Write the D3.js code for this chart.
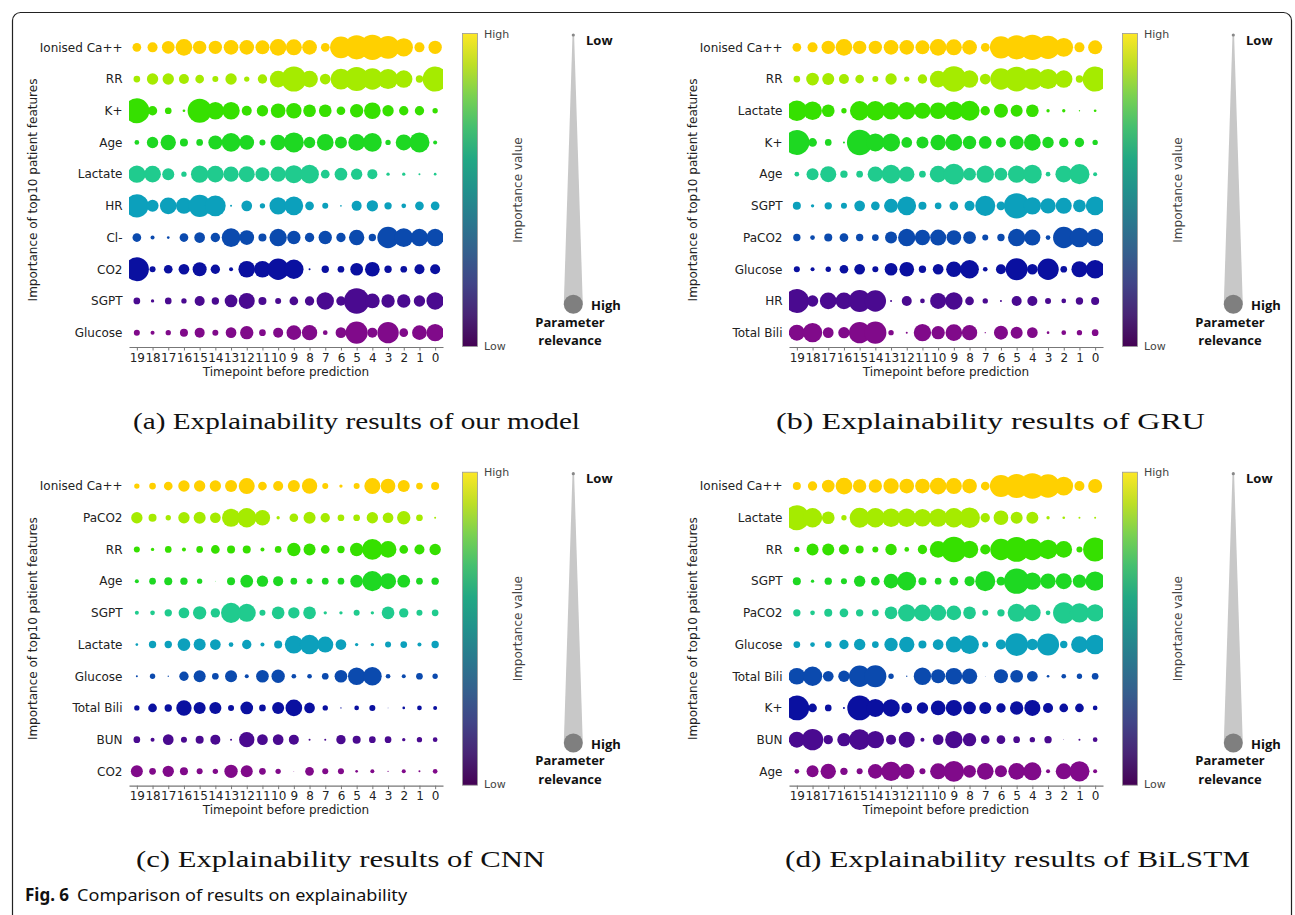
<!DOCTYPE html>
<html>
<head>
<meta charset="utf-8">
<script src="https://cdn.jsdelivr.net/npm/d3@7"></script>
<style>
  body { margin: 0; background: #fff; }
</style>
</head>
<body>
<svg id="fig" width="1295" height="915"></svg>
<script>
// timepoints before prediction, left to right
var timepoints = [19, 18, 17, 16, 15, 14, 13, 12, 11, 10, 9, 8, 7, 6, 5, 4, 3, 2, 1, 0];

// (a) our model
var featuresOurs = ['Ionised Ca++', 'RR', 'K+', 'Age', 'Lactate', 'HR', 'Cl-', 'CO2', 'SGPT', 'Glucose'];
var valuesOurs = [
  [26, 30, 38, 50, 40, 40, 44, 44, 42, 50, 48, 44, 26, 65, 72, 75, 68, 55, 30, 40],
  [20, 34, 34, 30, 26, 18, 34, 16, 28, 50, 75, 50, 32, 62, 72, 64, 60, 52, 22, 75],
  [75, 28, 20, 8, 72, 52, 52, 30, 34, 44, 46, 38, 38, 26, 40, 50, 34, 28, 28, 16],
  [14, 34, 46, 24, 20, 42, 56, 44, 18, 46, 60, 34, 50, 36, 50, 56, 16, 48, 60, 12],
  [52, 50, 36, 16, 52, 50, 46, 48, 42, 46, 54, 56, 26, 38, 34, 30, 10, 10, 6, 8],
  [70, 36, 50, 48, 66, 62, 6, 32, 16, 52, 56, 26, 18, 5, 30, 34, 22, 14, 26, 26],
  [26, 12, 8, 26, 32, 28, 56, 44, 24, 52, 40, 28, 40, 28, 46, 22, 64, 56, 52, 52],
  [72, 18, 26, 32, 42, 28, 12, 50, 50, 64, 58, 6, 22, 20, 38, 44, 22, 20, 30, 30],
  [20, 10, 20, 16, 30, 22, 38, 48, 24, 18, 26, 28, 52, 28, 76, 44, 40, 40, 34, 52],
  [18, 12, 16, 24, 30, 18, 32, 40, 20, 30, 44, 46, 14, 32, 66, 30, 64, 26, 44, 52]
];

// (b) GRU
var featuresGRU = ['Ionised Ca++', 'RR', 'Lactate', 'K+', 'Age', 'SGPT', 'PaCO2', 'Glucose', 'HR', 'Total Bili'];
var valuesGRU = [
  [26, 30, 40, 50, 40, 40, 44, 44, 42, 50, 48, 44, 26, 66, 72, 76, 70, 56, 30, 42],
  [20, 38, 36, 30, 26, 18, 34, 16, 28, 50, 76, 52, 32, 64, 74, 64, 60, 52, 22, 75],
  [62, 56, 38, 16, 58, 58, 52, 52, 48, 50, 56, 60, 28, 42, 36, 38, 10, 10, 4, 8],
  [75, 26, 20, 6, 76, 54, 54, 32, 36, 46, 50, 40, 38, 30, 42, 50, 34, 28, 28, 16],
  [14, 36, 48, 22, 20, 46, 56, 46, 20, 50, 62, 38, 52, 38, 52, 56, 14, 50, 60, 12],
  [24, 10, 22, 18, 32, 26, 42, 56, 24, 20, 26, 30, 60, 26, 76, 52, 46, 48, 38, 56],
  [22, 14, 24, 26, 22, 20, 36, 52, 46, 48, 44, 38, 18, 22, 52, 48, 14, 64, 58, 52],
  [18, 12, 16, 26, 32, 18, 38, 44, 22, 32, 46, 56, 14, 30, 66, 32, 64, 20, 48, 56],
  [72, 34, 50, 50, 66, 64, 6, 30, 14, 48, 52, 26, 16, 6, 30, 30, 18, 14, 22, 24],
  [48, 58, 32, 34, 64, 66, 16, 6, 52, 40, 50, 46, 4, 42, 36, 32, 8, 14, 16, 20]
];

// (c) CNN
var featuresCNN = ['Ionised Ca++', 'PaCO2', 'RR', 'Age', 'SGPT', 'Lactate', 'Glucose', 'Total Bili', 'BUN', 'CO2'];
var valuesCNN = [
  [16, 20, 26, 34, 34, 34, 36, 48, 26, 30, 36, 46, 18, 10, 18, 48, 44, 36, 20, 24],
  [34, 24, 16, 34, 36, 32, 54, 58, 46, 10, 26, 36, 28, 20, 20, 34, 32, 40, 20, 6],
  [18, 10, 20, 12, 20, 26, 24, 24, 12, 20, 40, 36, 26, 22, 40, 62, 50, 26, 30, 34],
  [12, 20, 24, 22, 16, 2, 24, 38, 34, 30, 20, 18, 20, 20, 38, 60, 48, 38, 20, 22],
  [12, 14, 22, 32, 40, 28, 60, 54, 18, 38, 34, 38, 10, 10, 18, 10, 38, 28, 18, 20],
  [8, 22, 22, 38, 36, 32, 14, 28, 12, 24, 54, 58, 48, 32, 10, 10, 18, 20, 12, 22],
  [6, 16, 4, 28, 36, 20, 36, 12, 38, 40, 14, 14, 20, 38, 52, 56, 14, 12, 20, 16],
  [16, 26, 22, 46, 36, 36, 18, 38, 20, 36, 50, 32, 16, 4, 14, 18, 2, 8, 14, 12],
  [20, 12, 32, 18, 24, 30, 6, 46, 32, 32, 30, 6, 6, 28, 24, 20, 20, 10, 16, 14],
  [36, 20, 34, 24, 18, 16, 40, 36, 20, 16, 2, 26, 18, 18, 8, 12, 4, 12, 6, 14]
];

// (d) BiLSTM
var featuresBiLSTM = ['Ionised Ca++', 'Lactate', 'RR', 'SGPT', 'PaCO2', 'Glucose', 'Total Bili', 'K+', 'BUN', 'Age'];
var valuesBiLSTM = [
  [24, 28, 38, 50, 40, 40, 46, 44, 44, 50, 48, 44, 26, 66, 72, 76, 70, 56, 30, 42],
  [75, 58, 38, 16, 60, 58, 56, 56, 52, 54, 58, 62, 28, 44, 36, 36, 10, 8, 6, 6],
  [16, 36, 36, 30, 24, 18, 34, 14, 28, 50, 76, 52, 30, 64, 74, 64, 58, 50, 18, 72],
  [24, 10, 22, 18, 34, 26, 44, 56, 24, 20, 26, 30, 60, 26, 76, 52, 46, 48, 40, 58],
  [22, 14, 24, 26, 22, 20, 38, 52, 50, 48, 44, 38, 18, 22, 54, 50, 14, 64, 58, 52],
  [20, 14, 20, 28, 34, 20, 40, 46, 24, 32, 48, 56, 18, 30, 68, 34, 66, 22, 50, 58],
  [50, 58, 32, 34, 64, 66, 16, 4, 52, 42, 50, 46, 2, 42, 38, 32, 8, 14, 16, 20],
  [74, 26, 20, 6, 74, 54, 52, 32, 34, 44, 48, 38, 36, 28, 40, 48, 30, 26, 26, 14],
  [48, 64, 28, 40, 62, 52, 30, 48, 12, 32, 52, 40, 26, 26, 20, 16, 22, 2, 6, 14],
  [14, 36, 46, 22, 18, 44, 58, 46, 18, 48, 62, 38, 50, 36, 50, 54, 12, 48, 60, 12]
];

var captions = [
  '(a) Explainability results of our model',
  '(b) Explainability results of GRU',
  '(c) Explainability results of CNN',
  '(d) Explainability results of BiLSTM'
];

// one colour per rank, top row to bottom row
var rankColors = ['#ffd000', '#a5eb00', '#36e000', '#1ed822', '#20cb8e', '#0ca0bc', '#0b4aae', '#0a10a0', '#4a0a90', '#800a8a'];

var svg = d3.select('#fig');

// frame round the figure
svg.append('rect')
  .attr('x', 12.5).attr('y', 12.5)
  .attr('width', 1279).attr('height', 930)
  .attr('rx', 8)
  .attr('fill', 'none')
  .attr('stroke', '#222')
  .attr('stroke-width', 1.2);

var x = d3.scalePoint().domain(timepoints).range([129, 443]).padding(0.5);
var r = d3.scaleLinear().domain([0, 76]).range([0, 12.7]);

function drawPanel(id, dx, dy, features, values, caption, capWidth) {
  var g = svg.append('g').attr('transform', 'translate(' + dx + ',' + dy + ')');
  var y = d3.scalePoint().domain(features).range([31.5, 348.5]).padding(0.5);

  g.append('clipPath').attr('id', 'clip' + id)
    .append('rect').attr('x', 129).attr('y', 20).attr('width', 314).attr('height', 327);

  var cells = [];
  values.forEach(function(row, i) {
    row.forEach(function(v, j) {
      cells.push({ f: features[i], t: timepoints[j], v: v, rank: i });
    });
  });

  g.append('g').attr('clip-path', 'url(#clip' + id + ')')
    .selectAll('circle')
    .data(cells)
    .enter().append('circle')
    .attr('cx', function(d) { return x(d.t); })
    .attr('cy', function(d) { return y(d.f); })
    .attr('r', function(d) { return r(d.v); })
    .attr('fill', function(d) { return rankColors[d.rank]; });

  // y labels
  g.append('g').selectAll('text')
    .data(features)
    .enter().append('text')
    .attr('x', 122.5)
    .attr('y', function(d) { return y(d); })
    .attr('dy', '0.36em')
    .attr('text-anchor', 'end')
    .attr('font-family', 'DejaVu Sans')
    .attr('font-size', 12)
    .attr('fill', '#222')
    .text(function(d) { return d; });

  var xAxis = g.append('g')
    .attr('transform', 'translate(0,347)')
    .call(d3.axisBottom(x).tickSize(3.5).tickPadding(2.5).tickSizeOuter(0));
  xAxis.select('.domain').attr('stroke', '#777').attr('stroke-width', 1.2);
  xAxis.selectAll('.tick line').attr('stroke', '#777');
  xAxis.selectAll('text')
    .attr('font-family', 'DejaVu Sans')
    .attr('font-size', 12)
    .attr('fill', '#222');

  g.append('text')
    .attr('x', 286).attr('y', 375.5)
    .attr('text-anchor', 'middle')
    .attr('font-family', 'DejaVu Sans')
    .attr('font-size', 12)
    .attr('fill', '#222')
    .text('Timepoint before prediction');

  g.append('text')
    .attr('transform', 'translate(37,190) rotate(-90)')
    .attr('text-anchor', 'middle')
    .attr('font-family', 'DejaVu Sans')
    .attr('font-size', 12)
    .attr('fill', '#222')
    .text('Importance of top10 patient features');

  // colour bar
  var gradId = 'grad' + id;
  var grad = g.append('defs').append('linearGradient')
    .attr('id', gradId)
    .attr('x1', 0).attr('y1', 1).attr('x2', 0).attr('y2', 0);
  d3.range(0, 1.001, 0.1).forEach(function(t) {
    grad.append('stop').attr('offset', t).attr('stop-color', d3.interpolateViridis(t));
  });
  g.append('rect')
    .attr('x', 462.5).attr('y', 33.5)
    .attr('width', 15).attr('height', 313)
    .attr('fill', 'url(#' + gradId + ')')
    .attr('stroke', '#999').attr('stroke-width', 0.8);
  g.append('text').attr('x', 484).attr('y', 37.5)
    .attr('font-family', 'DejaVu Sans').attr('font-size', 11).attr('fill', '#444')
    .text('High');
  g.append('text').attr('x', 484).attr('y', 349.5)
    .attr('font-family', 'DejaVu Sans').attr('font-size', 11).attr('fill', '#444')
    .text('Low');
  g.append('text')
    .attr('transform', 'translate(522,190) rotate(-90)')
    .attr('text-anchor', 'middle')
    .attr('font-family', 'DejaVu Sans').attr('font-size', 12).attr('fill', '#444')
    .text('Importance value');

  // parameter relevance wedge
  var cx = 573.3;
  g.append('path')
    .attr('d', d3.line()([[cx - 0.8, 35], [cx + 0.8, 35], [cx + 9.5, 304], [cx - 9.5, 304]]) + 'Z')
    .attr('fill', '#c8c8c8');
  g.append('circle').attr('cx', cx).attr('cy', 35).attr('r', 1.6).attr('fill', '#888');
  g.append('circle').attr('cx', cx).attr('cy', 304.3).attr('r', 9.5).attr('fill', '#7f7f7f');
  var bold = function(t, xx, yy, anchor) {
    g.append('text').attr('x', xx).attr('y', yy)
      .attr('text-anchor', anchor || 'start')
      .attr('font-family', 'Open Sans').attr('font-weight', 'bold')
      .attr('font-size', 13).attr('fill', '#111')
      .text(t);
  };
  bold('Low', 586, 44.5);
  bold('High', 591, 310);
  bold('Parameter', 570, 326.5, 'middle');
  bold('relevance', 570, 345, 'middle');

  // sub caption
  g.append('text')
    .attr('x', capWidth[0]).attr('y', 428.5)
    .attr('font-family', 'Liberation Serif')
    .attr('font-size', 23)
    .attr('fill', '#111')
    .attr('textLength', capWidth[1])
    .attr('lengthAdjust', 'spacingAndGlyphs')
    .text(caption);
}

drawPanel('a', 0, 0, featuresOurs, valuesOurs, captions[0], [133, 447]);
drawPanel('b', 660, 0, featuresGRU, valuesGRU, captions[1], [116, 429]);
drawPanel('c', 0, 438.7, featuresCNN, valuesCNN, captions[2], [136, 409]);
drawPanel('d', 660, 438.7, featuresBiLSTM, valuesBiLSTM, captions[3], [125, 465]);

// figure caption
var fig = svg.append('text').attr('x', 25).attr('y', 901)
  .attr('font-family', 'Noto Sans').attr('font-size', 17).attr('fill', '#111');
fig.append('tspan').attr('font-weight', 'bold').text('Fig. 6');
fig.append('tspan').attr('dx', 8).attr('textLength', 330).attr('lengthAdjust', 'spacingAndGlyphs')
  .text('Comparison of results on explainability');
</script>
</body>
</html>
